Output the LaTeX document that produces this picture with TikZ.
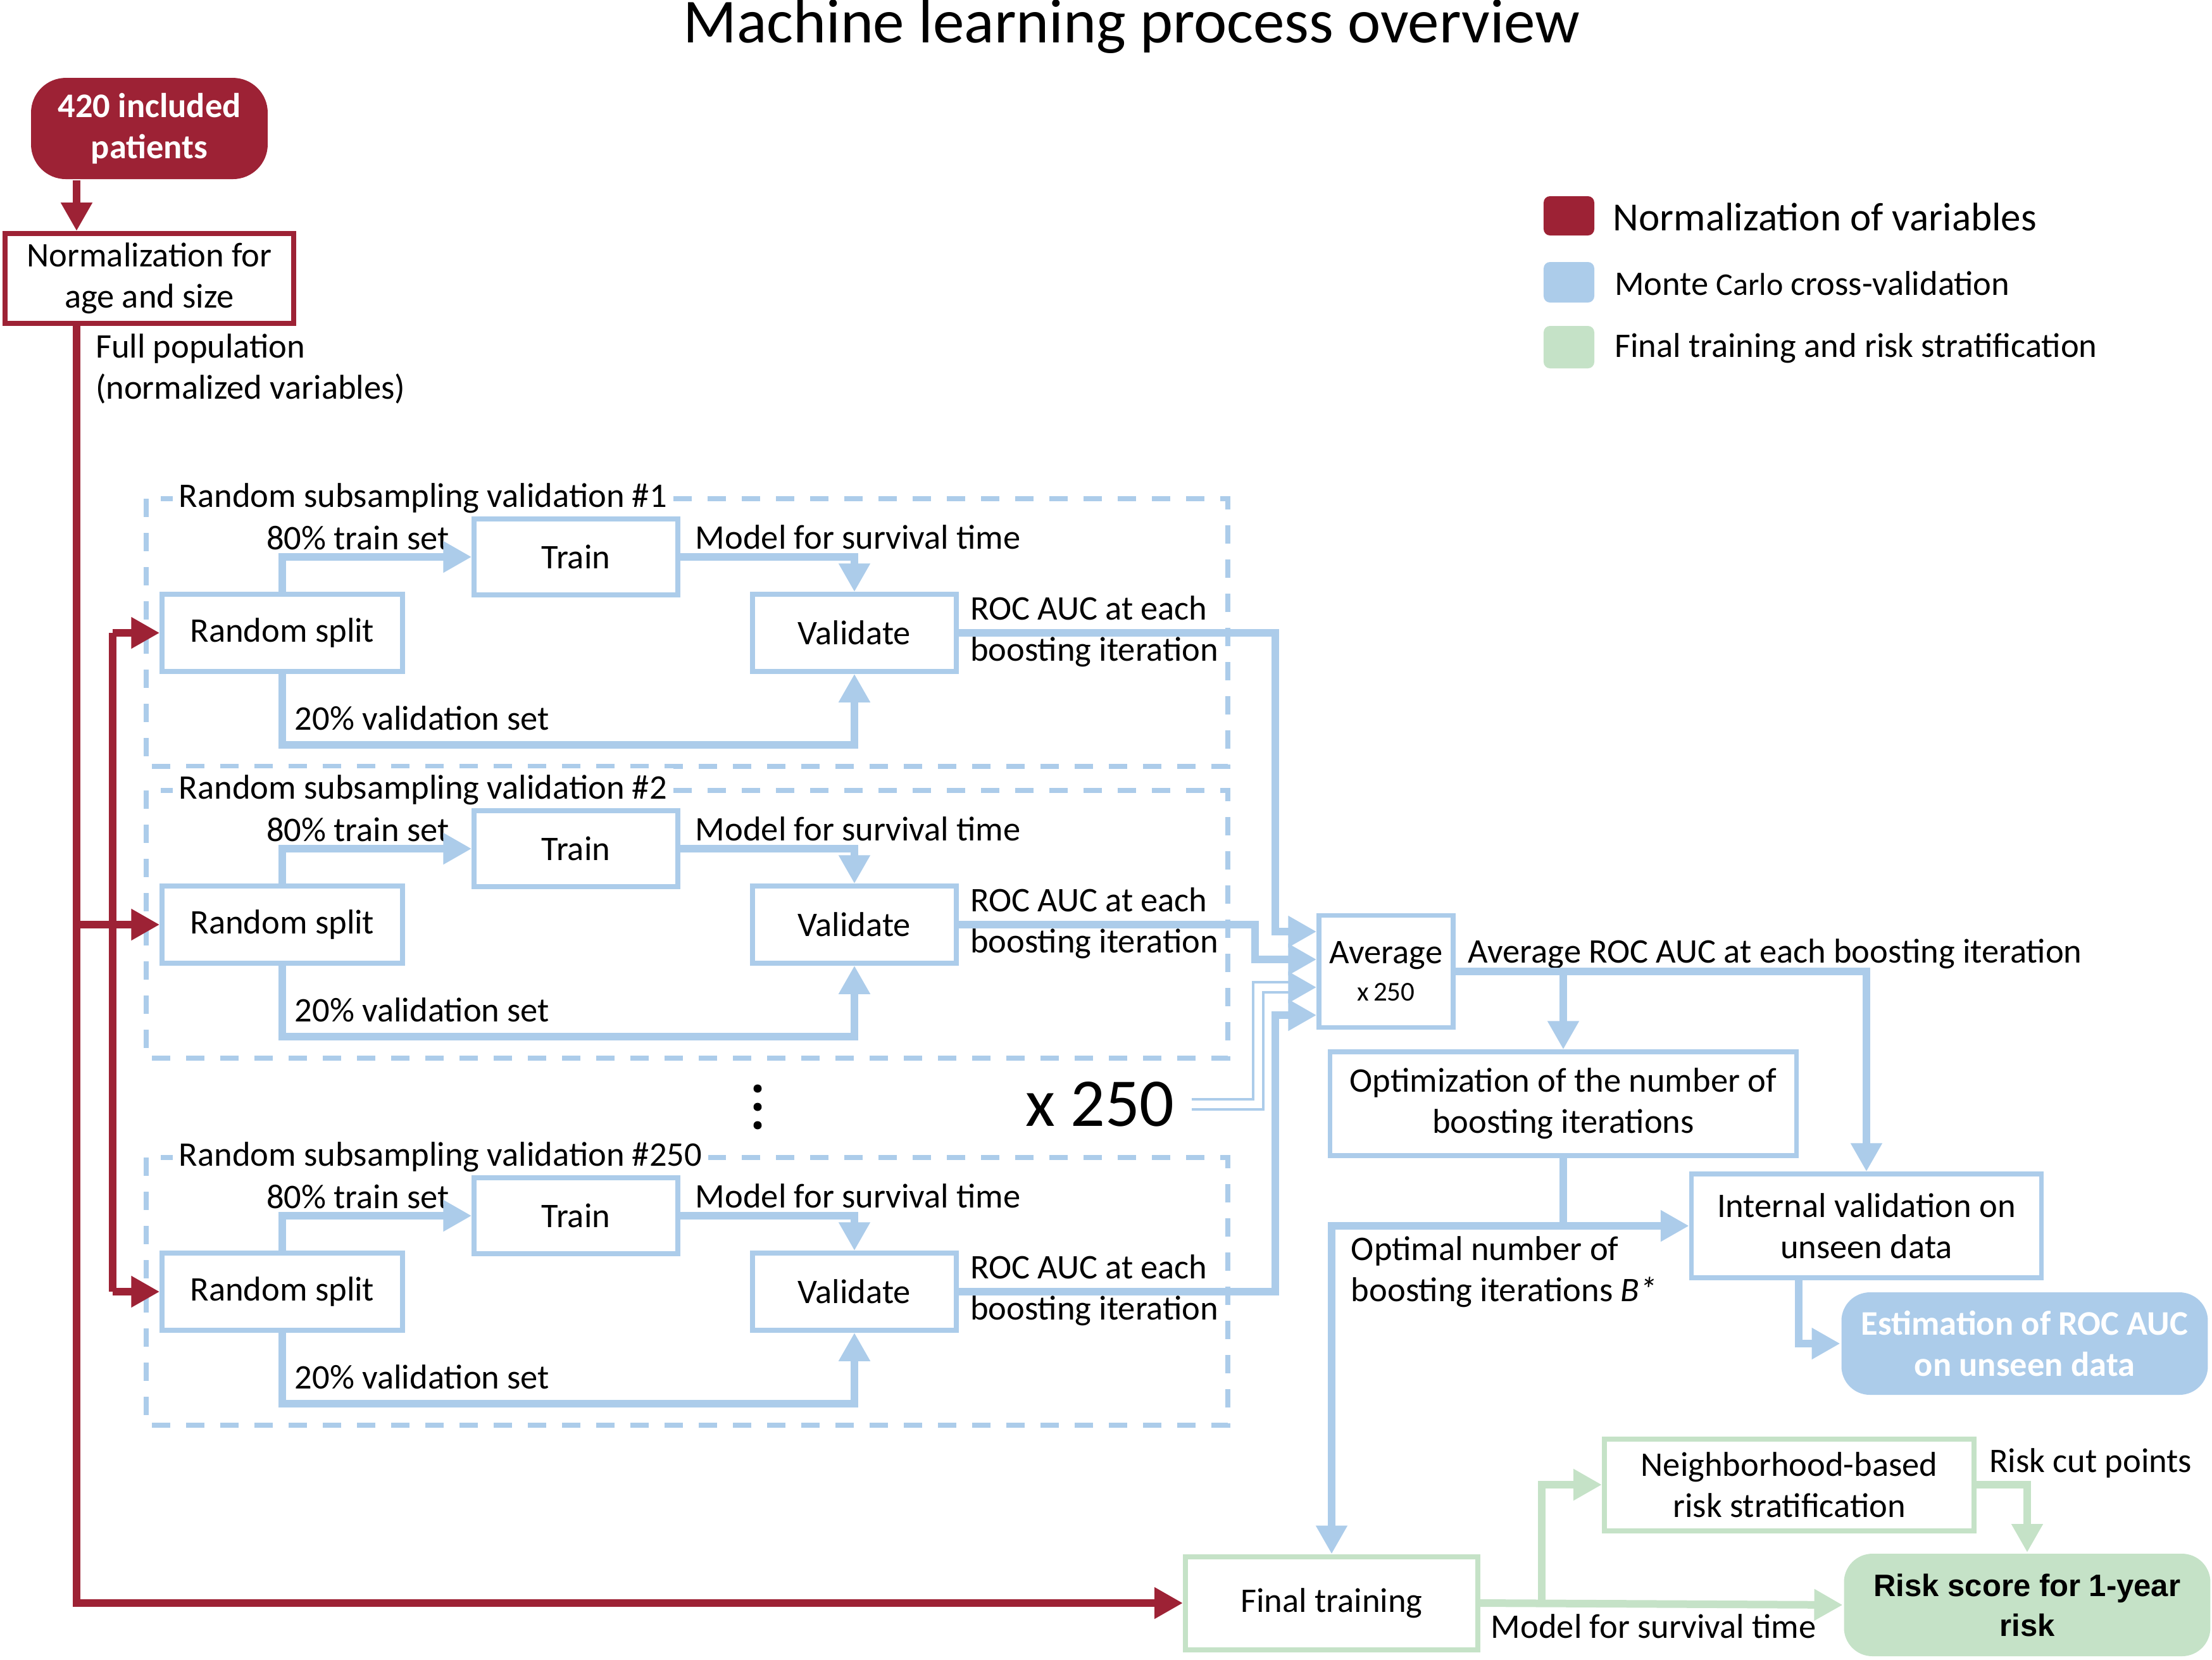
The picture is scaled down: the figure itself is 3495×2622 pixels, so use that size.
\documentclass[tikz,border=0pt]{standalone}
\usepackage{fontspec}
\setmainfont{Carlito}
\newfontfamily\arialfont{Liberation Sans}
\usetikzlibrary{arrows.meta,calc}
\definecolor{mred}{RGB}{157,34,53}
\definecolor{mblue}{RGB}{172,204,234}
\definecolor{mgreen}{RGB}{197,226,199}
\newcommand\fs{\fontsize{5.45pt}{6.5pt}\selectfont}
\begin{document}
\begin{tikzpicture}[x=0.1pt,y=-0.1pt,
  box/.style={draw, fill=white, inner sep=0pt, align=center, font=\fs},
  bbox/.style={box, draw=mblue, line width=0.75pt},
  gbox/.style={box, draw=mgreen, line width=0.8pt},
  tip/.style={-{Triangle[length=4.5pt,width=4.7pt]}},
  bline/.style={draw=mblue, line width=1.2pt},
  rline/.style={draw=mred, line width=1.2pt},
  gline/.style={draw=mgreen, line width=1.2pt},
  lab/.style={inner sep=0pt, align=left, anchor=west, font=\fs},
  dashbox/.style={draw=mblue, line width=0.8pt, dash pattern=on 2.9pt off 2.5pt},
]
\useasboundingbox (0,0) rectangle (3495,2622);

% title
\node[font=\fontsize{9.9pt}{12pt}\selectfont, anchor=base, inner sep=0pt] (title) at (1788,67) {Machine learning process overview};

% legend
\fill[mred, rounded corners=1pt] (2439,310) rectangle (2519,372);
\fill[mblue, rounded corners=1pt] (2439,414) rectangle (2519,478);
\fill[mgreen, rounded corners=1pt] (2439,515) rectangle (2519,582);
\node[lab, font=\fontsize{6.3pt}{7.5pt}\selectfont] (leg1) at (2547,343) {Normalization of variables};
\node[lab] (leg2) at (2549,448) {Monte {\fontsize{5pt}{6pt}\selectfont Carlo} cross-validation};
\node[lab] (leg3) at (2549,550) {Final training and risk stratification};

% red part
\node[fill=mred, rounded corners=5.5pt, minimum width=37.4pt, minimum height=16pt, inner sep=0pt, align=center, text=white, font=\fs\bfseries] (pat) at (236,203) {420 included\\patients};
\node[box, draw=mred, line width=0.8pt, minimum width=45.7pt, minimum height=14.2pt] (norm) at (236,440) {Normalization for\\age and size};
\node[lab] (full) at (149,583) {Full population\\(normalized variables)};

% subsampling blocks
\foreach \i/\dy/\n in {1/0/1, 2/461/2, 3/1041/250}{
 \begin{scope}[shift={(0,\dy)}]
  \draw[dashbox] (231,788) rectangle (1940,1211);
  \node[lab, fill=white, inner sep=1pt] (ttl\i) at (271,787) {Random subsampling validation \#\n};
  \node[bbox, minimum width=38pt, minimum height=12.2pt] (rs\i) at (446,1000) {Random split};
  \node[bbox, minimum width=32.2pt, minimum height=12pt] (tr\i) at (910,880) {Train};
  \node[bbox, minimum width=32.2pt, minimum height=12.2pt] (va\i) at (1350,1000) {Validate};
  \node[lab] (lt\i) at (419,850) {80\% train set};
  \node[lab] (lm\i) at (1097,849) {Model for survival time};
  \node[lab] (lr\i) at (1531,998) {ROC AUC at each\\boosting iteration};
  \node[lab] (lv\i) at (464,1135) {20\% validation set};
  \draw[bline,tip] (rs\i.north) |- (tr\i.west);
  \draw[bline,tip] (tr\i.east) -| (va\i.north);
  \draw[bline,tip] (rs\i.south) -- ++(0,112) -| (va\i.south);
 \end{scope}
}

% dots and x 250
\fill[black] (1197,1720) circle[radius=6.5];
\fill[black] (1197,1749) circle[radius=6.5];
\fill[black] (1197,1778) circle[radius=6.5];
\node[font=\fontsize{10.8pt}{13pt}\selectfont, inner sep=2.5pt] (x250) at (1738,1745) {x 250};

% average and right part
\node[bbox, minimum width=21.2pt, minimum height=17.7pt] (avg) at (2190,1535) {Average\\[-0.6pt]{\fontsize{4.3pt}{5pt}\selectfont x\,250}};
\node[bbox, minimum width=73.7pt, minimum height=16.4pt] (opt) at (2470,1744) {Optimization of the number of\\boosting iterations};
\node[bbox, minimum width=55.3pt, minimum height=16.4pt] (int) at (2949,1937) {Internal validation on\\unseen data};
\node[fill=mblue, rounded corners=4.5pt, minimum width=57.9pt, minimum height=16.2pt, inner sep=0pt, align=center, text=white, font=\fs\bfseries] (est) at (3199,2123) {Estimation of ROC AUC\\on unseen data};
\node[lab] (lavg) at (2318,1507) {Average ROC AUC at each boosting iteration};
\node[lab] (lopt) at (2133,2010) {Optimal number of\\boosting iterations \textit{B*}};

% green part
\node[gbox, minimum width=46.2pt, minimum height=14.7pt] (ft) at (2104,2533) {Final training};
\node[gbox, minimum width=58.4pt, minimum height=14.5pt] (nb) at (2827,2346) {Neighborhood-based\\risk stratification};
\node[fill=mgreen, rounded corners=4.5pt, minimum width=57.9pt, minimum height=16.2pt, inner sep=0pt, align=center, font=\arialfont\bfseries\fontsize{4.9pt}{6.3pt}\selectfont] (risk) at (3203,2536) {Risk score for 1-year\\risk};
\node[lab] (lms) at (2354,2570) {Model for survival time};
\node[lab] (lrc) at (3141,2312) {Risk cut points};

% blue connectors to average
\draw[bline,tip] (va1.east) -| (2015,1472) -- (avg.west |- 0,1472);
\draw[bline,tip] (va2.east) -| (1983,1516) -- (avg.west |- 0,1516);
\draw[bline,tip] (va3.east) -| (2015,1604) -- (avg.west |- 0,1604);
\draw[draw=mblue, line width=0.4pt, double=white, double distance=1.2pt] (x250.east) -| (1988,1560) -- (2045,1560);
\draw[bline,tip] (2040,1560) -- (avg.west |- 0,1560);

\draw[bline,tip] (avg.east) -| (int.north);
\draw[bline,tip] (avg.east -| opt.north) -- (opt.north);
\draw[bline,tip] (opt.south) |- (int.west);
\draw[bline,tip] (opt.south |- int.west) -| (ft.north);
\draw[bline,tip] (opt.east |- int.south) |- (est.west);

% green connectors
\draw[gline,tip] (ft.east) -- (risk.west);
\draw[gline,tip] (ft.east -| 2436,0) |- (nb.west);
\draw[gline,tip] (nb.east) -| (risk.north);

% red connectors
\draw[rline,tip] (pat.south -| 121,0) -- (norm.north -| 121,0);
\draw[rline,tip] (norm.south -| 121,0) |- (ft.west);
\draw[rline,tip] (rs2.west -| 121,0) -- (rs2.west);
\draw[rline] (rs1.west -| 178,0) -- (rs3.west -| 178,0);
\draw[rline,tip] (rs1.west -| 178,0) -- (rs1.west);
\draw[rline,tip] (rs3.west -| 178,0) -- (rs3.west);
\end{tikzpicture}
\end{document}
